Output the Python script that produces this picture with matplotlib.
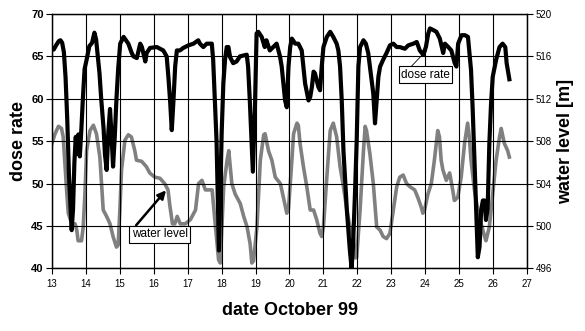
import matplotlib
matplotlib.use("Agg")
import matplotlib.pyplot as plt

plt.rcParams['font.family'] = ['Liberation Sans', 'DejaVu Sans']

# ---- data ----
dose_day = [13.00, 13.05, 13.12, 13.20, 13.25, 13.30, 13.35, 13.40, 13.45, 13.50, 13.55, 13.58,
            13.62, 13.66, 13.70, 13.74, 13.78, 13.82, 13.86, 13.91, 13.96, 14.02, 14.10, 14.18,
            14.25, 14.30, 14.40, 14.45, 14.52, 14.56, 14.61, 14.66, 14.71, 14.75, 14.80, 14.85,
            14.90, 14.95, 15.01, 15.11, 15.25, 15.35, 15.40, 15.50, 15.60, 15.65, 15.75, 15.79,
            15.89, 16.09, 16.28, 16.38, 16.43, 16.48, 16.53, 16.58, 16.63, 16.68, 16.77, 16.87,
            17.02, 17.17, 17.31, 17.36, 17.46, 17.56, 17.71, 17.75, 17.80, 17.85, 17.92, 18.00,
            18.05, 18.10, 18.15, 18.20, 18.25, 18.34, 18.44, 18.54, 18.74, 18.78, 18.83, 18.88,
            18.92, 18.98, 19.03, 19.08, 19.18, 19.27, 19.32, 19.42, 19.52, 19.62, 19.72, 19.77,
            19.87, 19.92, 19.97, 20.02, 20.07, 20.17, 20.26, 20.36, 20.46, 20.56, 20.61, 20.66,
            20.71, 20.75, 20.85, 20.90, 20.95, 21.00, 21.10, 21.20, 21.29, 21.39, 21.44, 21.49,
            21.54, 21.59, 21.69, 21.78, 21.83, 21.87, 21.93, 21.98, 22.03, 22.08, 22.18, 22.25,
            22.32, 22.37, 22.47, 22.52, 22.57, 22.62, 22.67, 22.76, 22.86, 22.96, 23.06, 23.16,
            23.25, 23.40, 23.50, 23.65, 23.75, 23.84, 23.94, 24.02, 24.09, 24.14, 24.24, 24.33,
            24.43, 24.53, 24.58, 24.68, 24.77, 24.87, 24.92, 24.97, 25.07, 25.17, 25.26, 25.35,
            25.40, 25.45, 25.50, 25.55, 25.60, 25.65, 25.70, 25.75, 25.79, 25.84, 25.89, 25.94,
            25.99, 26.09, 26.19, 26.28, 26.36, 26.40, 26.48]
dose_rate = [66.0, 65.8, 66.3, 66.8, 66.9, 66.6, 65.5, 62.5, 57.5, 51.0, 47.0, 44.5,
             47.0, 52.5, 55.5, 53.5, 55.8, 53.2, 56.0, 60.0, 63.5, 64.6, 66.2, 66.6,
             67.8, 67.0, 63.0, 60.0, 56.5, 53.5, 51.6, 56.0, 58.8, 56.0, 52.0, 55.5,
             60.0, 63.5, 66.5, 67.3, 66.5, 65.4, 65.0, 64.8, 66.5, 66.1, 64.4, 65.4,
             66.0, 66.1, 65.7, 65.0, 62.6, 59.8, 56.3, 59.8, 63.8, 65.7, 65.7, 66.0,
             66.3, 66.5, 66.9, 66.5, 66.1, 66.5, 66.5, 64.6, 59.8, 55.0, 42.1, 55.9,
             61.8, 64.6, 66.1, 66.1, 64.9, 64.2, 64.4, 65.0, 65.2, 63.8, 59.8, 55.0,
             51.4, 58.7, 67.7, 67.9, 67.3, 66.1, 66.9, 65.7, 66.1, 66.5, 65.0, 63.8,
             59.8, 59.0, 63.8, 66.1, 67.1, 66.5, 66.5, 65.7, 61.8, 59.8, 60.2, 61.4,
             63.2, 63.0, 61.4, 61.0, 63.8, 66.1, 67.3, 67.9, 67.3, 66.5, 65.7, 63.8,
             59.8, 53.9, 46.9, 42.1, 40.0, 42.5, 48.8, 55.0, 63.8, 66.1, 66.9, 66.5,
             65.4, 63.8, 60.6, 57.1, 59.8, 62.6, 63.8, 64.6, 65.4, 66.3, 66.5, 66.1,
             66.1, 65.9, 66.3, 66.5, 66.7, 65.7, 65.2, 66.1, 67.7, 68.3, 68.1, 67.9,
             67.1, 65.4, 66.5, 66.1, 65.7, 64.2, 63.8, 66.5, 67.5, 67.5, 67.3, 63.4,
             58.7, 52.8, 46.9, 41.3, 42.5, 46.9, 48.0, 48.0, 45.7, 47.0, 54.7, 59.4,
             62.6, 64.6, 66.1, 66.5, 66.1, 64.2, 62.3]

water_day = [13.00, 13.09, 13.19, 13.28, 13.33, 13.38, 13.43, 13.48, 13.58, 13.68, 13.73, 13.77,
             13.87, 13.92, 13.97, 14.02, 14.12, 14.22, 14.31, 14.41, 14.46, 14.51, 14.61, 14.71,
             14.80, 14.90, 14.95, 15.00, 15.05, 15.15, 15.25, 15.34, 15.44, 15.49, 15.64, 15.78,
             15.88, 16.03, 16.18, 16.32, 16.42, 16.47, 16.55, 16.62, 16.69, 16.78, 16.93, 17.08,
             17.23, 17.32, 17.42, 17.52, 17.62, 17.72, 17.81, 17.91, 17.96, 18.06, 18.16, 18.21,
             18.30, 18.40, 18.55, 18.65, 18.75, 18.84, 18.89, 18.94, 19.04, 19.14, 19.24, 19.28,
             19.38, 19.48, 19.58, 19.73, 19.82, 19.92, 19.97, 20.07, 20.12, 20.22, 20.26, 20.31,
             20.41, 20.51, 20.61, 20.71, 20.80, 20.90, 20.95, 21.00, 21.10, 21.20, 21.29, 21.39,
             21.49, 21.59, 21.69, 21.78, 21.88, 21.93, 21.98, 22.08, 22.18, 22.23, 22.27, 22.37,
             22.47, 22.57, 22.67, 22.76, 22.86, 22.96, 23.06, 23.16, 23.25, 23.35, 23.45, 23.55,
             23.69, 23.78, 23.88, 23.93, 23.98, 24.08, 24.18, 24.27, 24.37, 24.42, 24.47, 24.52,
             24.62, 24.72, 24.76, 24.81, 24.86, 24.96, 25.06, 25.16, 25.25, 25.30, 25.35, 25.45,
             25.55, 25.65, 25.75, 25.79, 25.89, 25.99, 26.09, 26.19, 26.24, 26.33, 26.43, 26.48]
water_level = [507.8, 508.7, 509.4, 509.2, 508.4, 505.9, 503.4, 501.2, 500.2, 500.2, 499.6, 498.6,
               498.6, 499.9, 503.0, 507.1, 509.0, 509.5, 508.7, 506.5, 504.0, 501.5, 500.9, 500.2,
               499.0, 498.0, 498.2, 501.5, 505.3, 508.1, 508.6, 508.4, 507.1, 506.2, 506.1, 505.6,
               505.0, 504.6, 504.5, 504.0, 503.4, 502.0, 500.2, 500.2, 500.9, 500.2, 500.2, 500.6,
               501.5, 504.0, 504.3, 503.4, 503.4, 503.4, 500.2, 496.8, 496.5, 503.7, 506.2, 507.1,
               504.0, 503.0, 502.1, 500.9, 499.9, 498.3, 496.5, 496.7, 499.9, 506.2, 508.6, 508.7,
               507.1, 506.2, 504.6, 504.0, 502.7, 501.2, 501.6, 506.2, 508.7, 509.7, 509.5, 507.8,
               505.6, 503.7, 501.5, 501.5, 500.6, 499.3, 499.0, 499.9, 504.6, 509.0, 509.7, 508.4,
               505.6, 503.7, 501.5, 499.9, 499.0, 497.0, 497.0, 501.5, 507.1, 509.4, 509.0, 506.8,
               504.0, 499.9, 499.6, 499.0, 498.8, 499.3, 501.5, 503.7, 504.6, 504.8, 504.0, 503.7,
               503.4, 502.7, 501.8, 501.2, 501.5, 503.0, 504.0, 506.2, 509.0, 508.4, 506.2, 505.3,
               504.3, 505.0, 504.3, 503.4, 502.4, 502.7, 504.6, 507.8, 509.7, 508.4, 506.2, 503.4,
               501.5, 500.2, 499.0, 498.6, 499.9, 503.0, 506.2, 508.4, 509.2, 507.8, 507.1, 506.5]

x_ticks = list(range(13, 28))
dose_ticks = [40, 45, 50, 55, 60, 65, 70]
water_ticks = [496, 500, 504, 508, 512, 516, 520]

# ---- figure ----
fig = plt.figure(figsize=(5.85, 3.31), dpi=100)
ax = fig.add_axes([52 / 585, 1 - 268.3 / 331, 475 / 585, 254.3 / 331])
ax2 = ax.twinx()

ax2.plot(water_day, water_level, color='#808080', lw=2.6, solid_joinstyle='round', zorder=2)
ax.plot(dose_day, dose_rate, color='black', lw=3.0, solid_joinstyle='round', zorder=3)
ax.set_zorder(ax2.get_zorder() + 1)
ax.patch.set_visible(False)

ax.set_xlim(13, 27)
ax.set_ylim(40, 70)
ax2.set_ylim(496, 520)
ax.set_xticks(x_ticks)
ax.set_yticks(dose_ticks)
ax2.set_yticks(water_ticks)

ax.grid(True, color='black', lw=0.8)
ax.set_axisbelow(True)

for a in (ax, ax2):
    for s in a.spines.values():
        s.set_color('black')
        s.set_linewidth(0.9)

ax.tick_params(axis='x', direction='out', length=4, width=0.8, labelsize=7, pad=4)
ax.tick_params(axis='y', direction='out', length=4, width=0.8, labelsize=8, pad=2)
for lbl in ax.get_yticklabels():
    lbl.set_fontweight('bold')
ax2.tick_params(axis='y', direction='out', length=4, width=0.8, labelsize=7, pad=2)

ax.set_xlabel('date October 99', fontsize=13, fontweight='bold', labelpad=9)
ax.set_ylabel('dose rate', fontsize=13, fontweight='bold', labelpad=3)
ax2.set_ylabel('water level [m]', fontsize=13, fontweight='bold', labelpad=4)

# annotations
ax.annotate('', xy=(16.36, 49.2), xytext=(15.48, 45.08), zorder=5,
            arrowprops=dict(arrowstyle='-|>', color='black', lw=1.8,
                            mutation_scale=12, shrinkA=0, shrinkB=0))
ax.text(16.17, 44.0, 'water level', ha='center', va='center', fontsize=8.5, zorder=6,
        bbox=dict(boxstyle='square,pad=0.2', fc='white', ec='black', lw=0.8))
ax.annotate('', xy=(24.05, 65.75), xytext=(23.6, 63.86), zorder=5,
            arrowprops=dict(arrowstyle='-|>', color='black', lw=0.6,
                            mutation_scale=5, shrinkA=0, shrinkB=0))
ax.text(24.01, 62.85, 'dose rate', ha='center', va='center', fontsize=8.5, zorder=6,
        bbox=dict(boxstyle='square,pad=0.2', fc='white', ec='black', lw=0.8))

fig.savefig('out.png', dpi=100)
